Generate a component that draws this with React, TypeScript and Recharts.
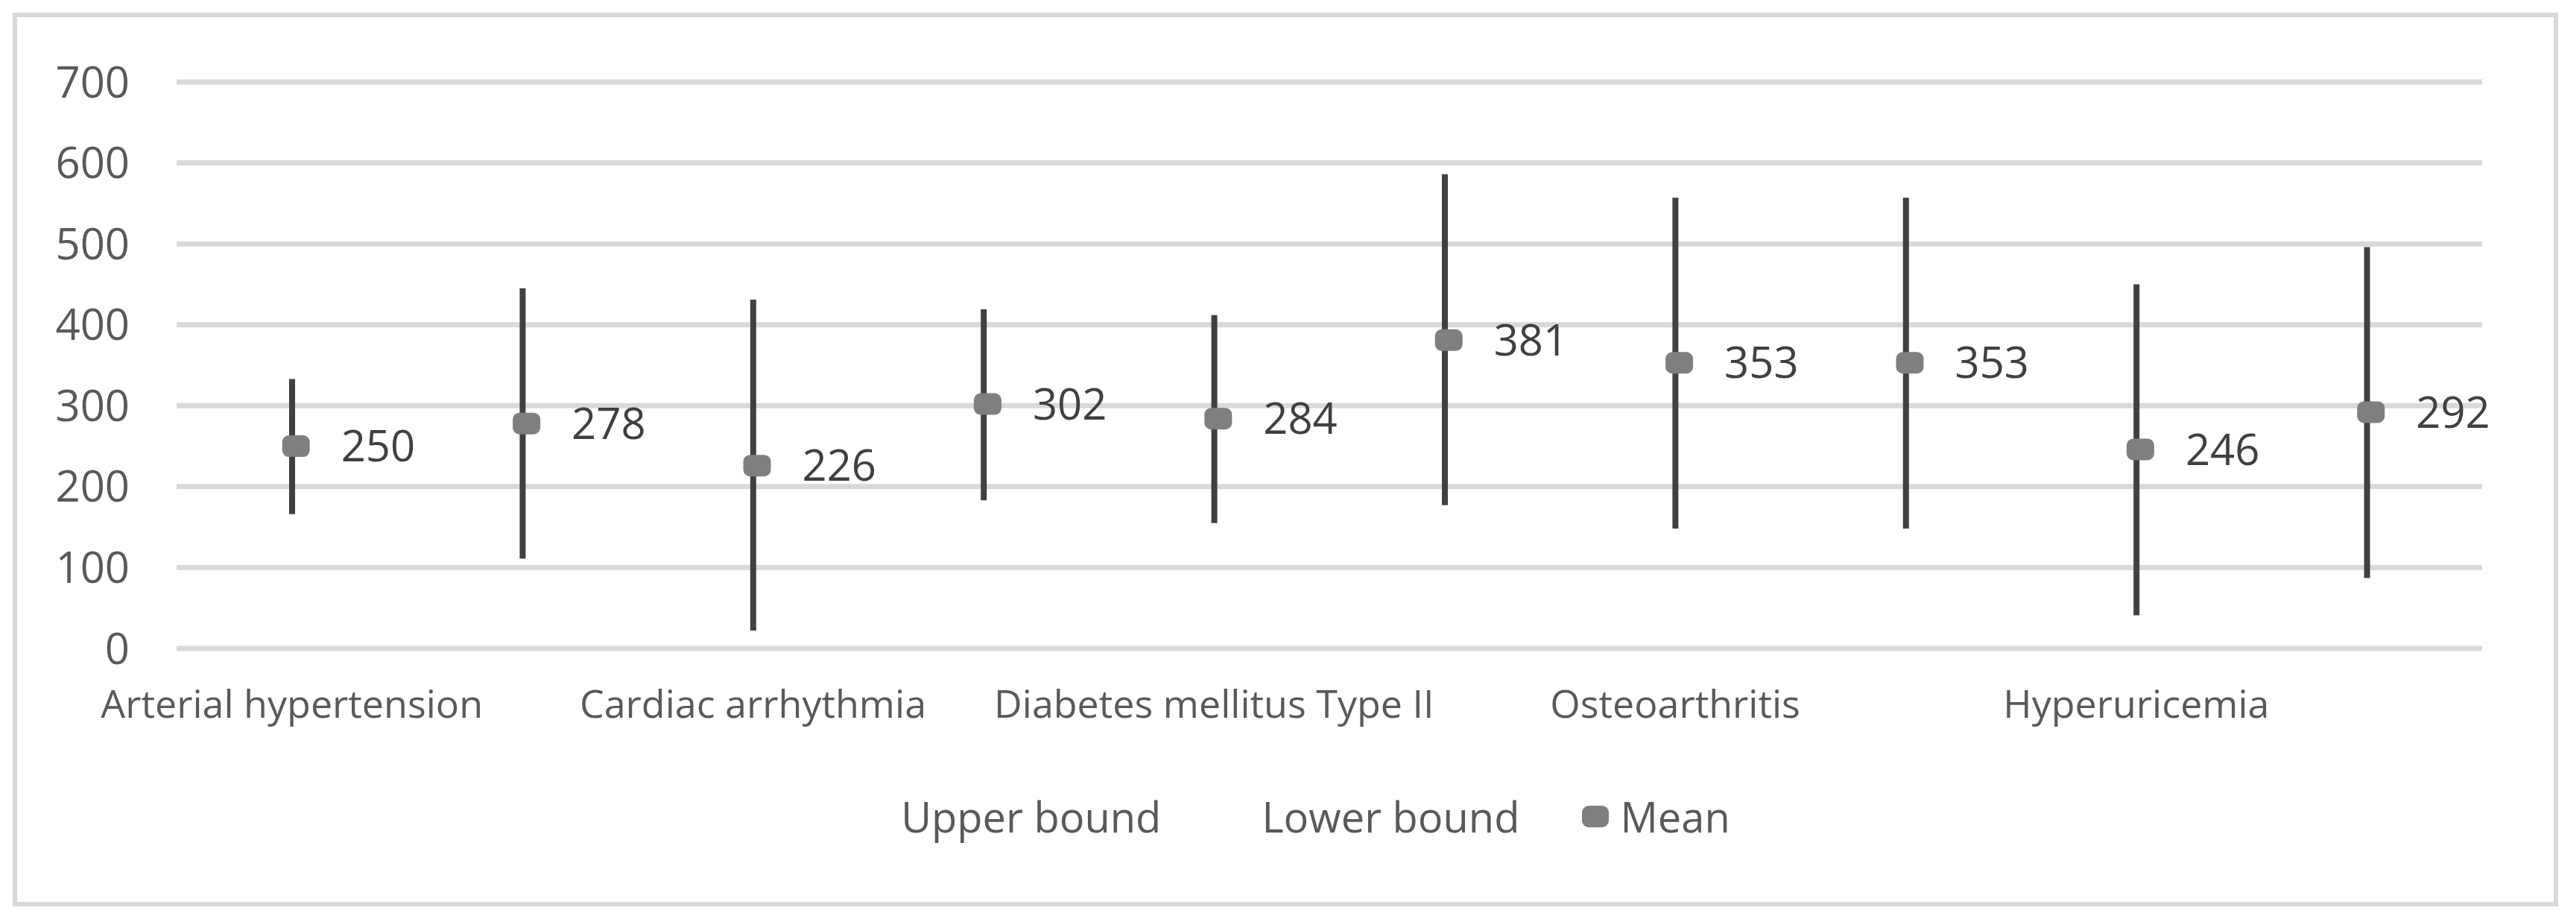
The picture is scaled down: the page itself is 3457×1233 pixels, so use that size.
import React from "react";
import {
  ComposedChart,
  Bar,
  Line,
  LabelList,
  CartesianGrid,
  XAxis,
  YAxis,
  Legend,
} from "recharts";

// Categories: Excel only printed every other label, the rest are unreadable
const categories = [
  "Arterial hypertension",
  "",
  "Cardiac arrhythmia",
  "",
  "Diabetes mellitus Type II",
  "",
  "Osteoarthritis",
  "",
  "Hyperuricemia",
  "",
];
const upperBound = [333, 445, 431, 419, 412, 586, 557, 557, 450, 496];
const lowerBound = [166, 111, 22, 183, 155, 177, 148, 148, 41, 87];
const meanValues = [250, 278, 226, 302, 284, 381, 353, 353, 246, 292];
const yTicks = [0, 100, 200, 300, 400, 500, 600, 700];

const seriesNames = { upper: "Upper bound", lower: "Lower bound", mean: "Mean" };

const data = categories.map((name, i) => ({
  name,
  upper: upperBound[i],
  lower: lowerBound[i],
  mean: meanValues[i],
  range: [lowerBound[i], upperBound[i]],
}));

const GRID = "#d9d9d9";
const TEXT = "#595959";
const DARK = "#404040";
const MARKER = "#7f7f7f";

const MeanDot = (props: any) => {
  const { cx, cy, index } = props;
  if (cx == null || cy == null) return <g key={`m-${index}`} />;
  return (
    <rect
      key={`m-${index}`}
      x={cx - 18 + 5}
      y={cy - 14.5}
      width={37}
      height={29}
      rx={9}
      ry={9}
      fill={MARKER}
    />
  );
};

const legendItems = [
  { label: seriesNames.upper, marker: false },
  { label: seriesNames.lower, marker: false },
  { label: seriesNames.mean, marker: true },
];

const LegendContent = () => (
  <div
    style={{
      display: "flex",
      justifyContent: "center",
      alignItems: "center",
      gap: 84,
      fontSize: 56,
      lineHeight: "76px",
      color: TEXT,
    }}
  >
    {legendItems.map((item) => (
      <div key={item.label} style={{ display: "flex", alignItems: "center", gap: 15 }}>
        <span
          style={{
            display: "inline-block",
            width: 36,
            height: 29,
            borderRadius: 9,
            background: item.marker ? MARKER : "transparent",
          }}
        />
        <span>{item.label}</span>
      </div>
    ))}
  </div>
);

export default function App() {
  return (
    <div
      style={{
        position: "absolute",
        left: 0,
        top: 0,
        width: 3457,
        height: 1233,
        background: "#fff",
        fontFamily: "'Open Sans', 'Noto Sans', sans-serif",
      }}
    >
      <ComposedChart
        width={3457}
        height={1233}
        data={data}
        margin={{ top: 110, right: 126, bottom: 303, left: 0 }}
      >
        <CartesianGrid vertical={false} stroke={GRID} strokeWidth={7} />
        <XAxis
          dataKey="name"
          height={60}
          interval={1}
          axisLine={false}
          tickLine={false}
          tickSize={0}
          tickMargin={56}
          tick={{ fill: TEXT, fontSize: 52 }}
        />
        <YAxis
          width={237}
          domain={[0, 700]}
          ticks={yTicks}
          axisLine={false}
          tickLine={false}
          tickSize={0}
          tickMargin={63}
          tick={{ fill: TEXT, fontSize: 58 }}
        />
        <Legend
          layout="horizontal"
          verticalAlign="middle"
          align="center"
          wrapperStyle={{ left: 0, top: 1057, width: 3480, height: 76 }}
          content={() => <LegendContent />}
        />
        <Bar dataKey="range" barSize={8} fill={DARK} isAnimationActive={false} />
        <Line
          dataKey="upper"
          name={seriesNames.upper}
          stroke="none"
          dot={false}
          activeDot={false}
          isAnimationActive={false}
        />
        <Line
          dataKey="lower"
          name={seriesNames.lower}
          stroke="none"
          dot={false}
          activeDot={false}
          isAnimationActive={false}
        />
        <Line
          dataKey="mean"
          name={seriesNames.mean}
          stroke="none"
          dot={MeanDot}
          activeDot={false}
          isAnimationActive={false}
        >
          <LabelList
            dataKey="mean"
            position="right"
            offset={66}
            fill={DARK}
            fontSize={58}
          />
        </Line>
      </ComposedChart>
      <div
        style={{
          position: "absolute",
          left: 17,
          top: 17,
          width: 3416,
          height: 1199,
          boxSizing: "border-box",
          border: `6px solid ${GRID}`,
          pointerEvents: "none",
        }}
      />
    </div>
  );
}
